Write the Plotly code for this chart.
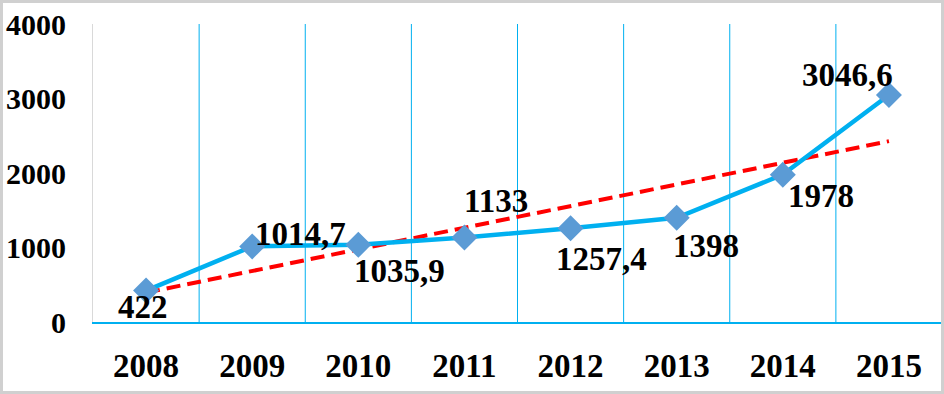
import numpy as np
import plotly.graph_objects as go

years = ["2008", "2009", "2010", "2011", "2012", "2013", "2014", "2015"]
values = [422, 1014.7, 1035.9, 1133, 1257.4, 1398, 1978, 3046.6]
y_ticks = [0, 1000, 2000, 3000, 4000]

# label placement (style): anchor, x shift, y shift in pixels
lab_anchor = ["center", "left", "left", "left", "left", "left", "left", "right"]
lab_dx = [-3, 1, -6, -2, -17, -6, 3, 6]
lab_dy = [-16, 12, -26, 37, -31, -28, -21, 20]

labels = [f"{v:g}".replace(".", ",") for v in values]
idx = np.arange(len(values))
coef = np.polyfit(idx, values, 1)
trend = np.polyval(coef, idx)

FONT = "Liberation Serif"
LINE = "#00B0F0"
GRID = "#00B0F0"
L, R, T, B = 93, 2, 24, 72
PW, PH = 944 - L - R, 394 - T - B

fig = go.Figure()
fig.add_trace(go.Scatter(
    x=years, y=trend, mode="lines",
    line=dict(color="#FF0000", width=4, dash="14px,7px"),
    hoverinfo="skip", showlegend=False))
fig.add_trace(go.Scatter(
    x=years, y=values, mode="lines+markers",
    line=dict(color=LINE, width=4.5),
    marker=dict(symbol="diamond", size=20, color="#5B9BD5"),
    showlegend=False, cliponaxis=False))

for i, (yv, t, a, dx, dy) in enumerate(zip(values, labels, lab_anchor, lab_dx, lab_dy)):
    fig.add_annotation(x=int(idx[i]), y=float(yv), xref="x", yref="y",
                       text="<b>" + t + "</b>", showarrow=False,
                       xanchor=a, yanchor="middle", xshift=dx, yshift=dy,
                       font=dict(family=FONT, size=33, color="black"))

shapes = [dict(type="rect", xref="paper", yref="paper",
               x0=(-L + 1.5) / PW, x1=(PW + R - 1.5) / PW,
               y0=(-B + 1.5) / PH, y1=(PH + T - 1.5) / PH,
               line=dict(color="#D0D0D0", width=3))]
for i in range(1, len(years)):
    shapes.append(dict(type="line", xref="x", yref="paper", x0=i - 0.5, x1=i - 0.5,
                       y0=0, y1=1, layer="below", line=dict(color=GRID, width=1)))

fig.update_layout(
    width=944, height=394,
    margin=dict(l=L, r=R, t=T, b=B, autoexpand=False),
    paper_bgcolor="white", plot_bgcolor="white",
    font=dict(family=FONT, color="black"),
    xaxis=dict(type="category", showgrid=False, ticks="",
               showline=True, linecolor=LINE, linewidth=2,
               ticklabelstandoff=13,
               tickfont=dict(family=FONT, size=33, color="black", weight="bold"),
               range=[-0.5, 7.5]),
    yaxis=dict(range=[0, 4000], tickvals=y_ticks, showgrid=False,
               zeroline=False, showline=True, linecolor="#D9D9D9", linewidth=1,
               ticks="", ticklabelstandoff=20,
               tickfont=dict(family=FONT, size=30, color="black", weight="bold")),
    shapes=shapes,
)

fig.write_html("out.html", config={"displayModeBar": False},
               post_script="document.body.style.margin='0';document.body.style.overflow='hidden';")
